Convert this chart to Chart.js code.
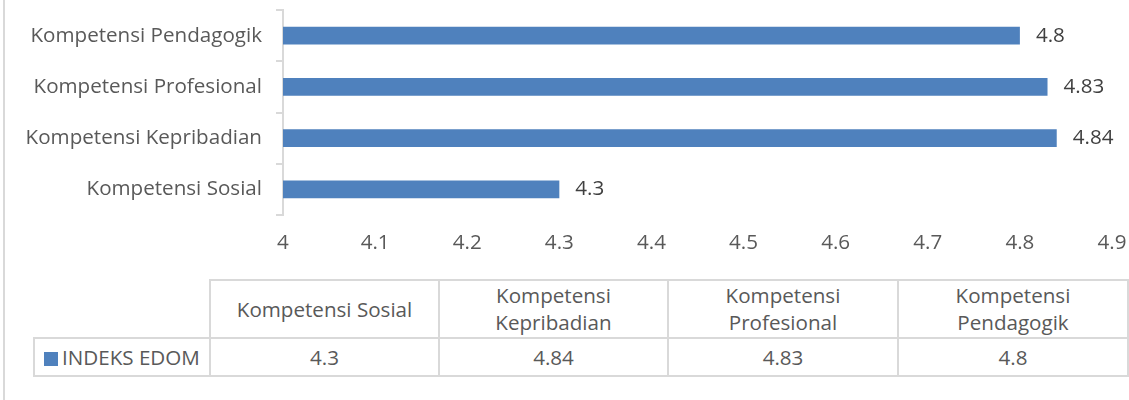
<!DOCTYPE html>
<html>
<head>
<meta charset="utf-8">
<script src="https://cdn.jsdelivr.net/npm/chart.js@4.4.1/dist/chart.umd.min.js"></script>
<style>
  body { margin: 0; background: #fff; }
  #wrap { position: relative; width: 1129px; height: 400px; overflow: hidden; font-family: "Open Sans", sans-serif; }
  #frame { position: absolute; left: 3px; top: 0; width: 2px; height: 400px; background: #d9d9d9; }
  #edomChart { position: absolute; left: 0; top: 0; }
  table.data-table { position: absolute; left: 33px; top: 279px; border-collapse: collapse; table-layout: fixed; color: #595959; font-size: 20.6px; }
  table.data-table td { border: 2px solid #d9d9d9; text-align: center; padding: 0 8px; line-height: 27px; }
  table.data-table td.blank { border: none; }
  table.data-table td.series { text-align: left; padding-left: 9px; white-space: nowrap; }
  .swatch { display: inline-block; width: 14px; height: 14px; background: #4f81bd; margin-right: 4px; vertical-align: -1px; }
</style>
</head>
<body>
<div id="wrap">
  <div id="frame"></div>
  <canvas id="edomChart" width="1129" height="270"></canvas>
  <table class="data-table" id="dataTable"></table>
</div>
<script>
// values as shown in the chart / data table (Excel order: bottom bar first)
const categories = ['Kompetensi Sosial', 'Kompetensi Kepribadian', 'Kompetensi Profesional', 'Kompetensi Pendagogik'];
const edomValues = [4.3, 4.84, 4.83, 4.8];
const seriesName = 'INDEKS EDOM';
const axisMin = 4;
const axisMax = 4.9;
const axisStep = 0.1;

const FONT = '"Open Sans", sans-serif';
const FONT_SIZE = 20.6;
const BAR_COLOR = '#4f81bd';

// value labels at the end of each bar
const valueLabels = {
    id: 'valueLabels',
    afterDatasetsDraw(chart) {
        const ctx = chart.ctx;
        const meta = chart.getDatasetMeta(0);
        ctx.save();
        ctx.font = FONT_SIZE + 'px ' + FONT;
        ctx.fillStyle = '#404040';
        ctx.textAlign = 'left';
        ctx.textBaseline = 'middle';
        meta.data.forEach((bar, i) => {
            ctx.fillText(String(edomValues[i]), bar.x + 16, bar.y);
        });
        ctx.restore();
    }
};

new Chart(document.getElementById('edomChart').getContext('2d'), {
    type: 'bar',
    data: {
        labels: categories,
        datasets: [{
            label: seriesName,
            data: edomValues,
            backgroundColor: BAR_COLOR,
            borderWidth: 0,
            categoryPercentage: 1,
            barPercentage: 0.35
        }]
    },
    options: {
        indexAxis: 'y',
        responsive: false,
        animation: false,
        layout: { padding: { top: 10, right: 17, left: 0, bottom: 10 } },
        plugins: {
            legend: { display: false },
            tooltip: { enabled: false }
        },
        scales: {
            y: {
                reverse: true,
                grid: {
                    drawOnChartArea: false,
                    offset: true,
                    tickLength: 7,
                    color: '#d9d9d9',
                    lineWidth: 2
                },
                border: { color: '#d9d9d9', width: 2 },
                ticks: {
                    padding: 14,
                    color: '#595959',
                    font: { family: FONT, size: FONT_SIZE }
                },
                afterFit: function(scale) {
                    scale.width = 283;
                    scale.paddingTop = 0;
                    scale.paddingBottom = 0;
                }
            },
            x: {
                min: axisMin,
                max: axisMax,
                grid: { display: false, drawTicks: false },
                border: { display: false },
                ticks: {
                    stepSize: axisStep,
                    padding: 16,
                    color: '#595959',
                    font: { family: FONT, size: FONT_SIZE },
                    callback: function(value) {
                        return String(Math.round(value * 10) / 10);
                    }
                },
                afterFit: function(scale) {
                    scale.height = 45;
                    scale.paddingLeft = 0;
                    scale.paddingRight = 0;
                }
            }
        }
    },
    plugins: [valueLabels]
});

// data table under the chart
function buildDataTable() {
    const table = document.getElementById('dataTable');
    const colgroup = document.createElement('colgroup');
    [176, 229, 229, 230, 230].forEach(w => {
        const col = document.createElement('col');
        col.style.width = w + 'px';
        colgroup.appendChild(col);
    });
    table.appendChild(colgroup);

    const headRow = document.createElement('tr');
    headRow.style.height = '58px';
    const blank = document.createElement('td');
    blank.className = 'blank';
    headRow.appendChild(blank);
    categories.forEach(cat => {
        const td = document.createElement('td');
        td.textContent = cat;
        headRow.appendChild(td);
    });
    table.appendChild(headRow);

    const valueRow = document.createElement('tr');
    valueRow.style.height = '38px';
    const nameCell = document.createElement('td');
    nameCell.className = 'series';
    const swatch = document.createElement('span');
    swatch.className = 'swatch';
    nameCell.appendChild(swatch);
    nameCell.appendChild(document.createTextNode(seriesName));
    valueRow.appendChild(nameCell);
    edomValues.forEach(v => {
        const td = document.createElement('td');
        td.textContent = String(v);
        valueRow.appendChild(td);
    });
    table.appendChild(valueRow);
}

buildDataTable();
</script>
</body>
</html>
